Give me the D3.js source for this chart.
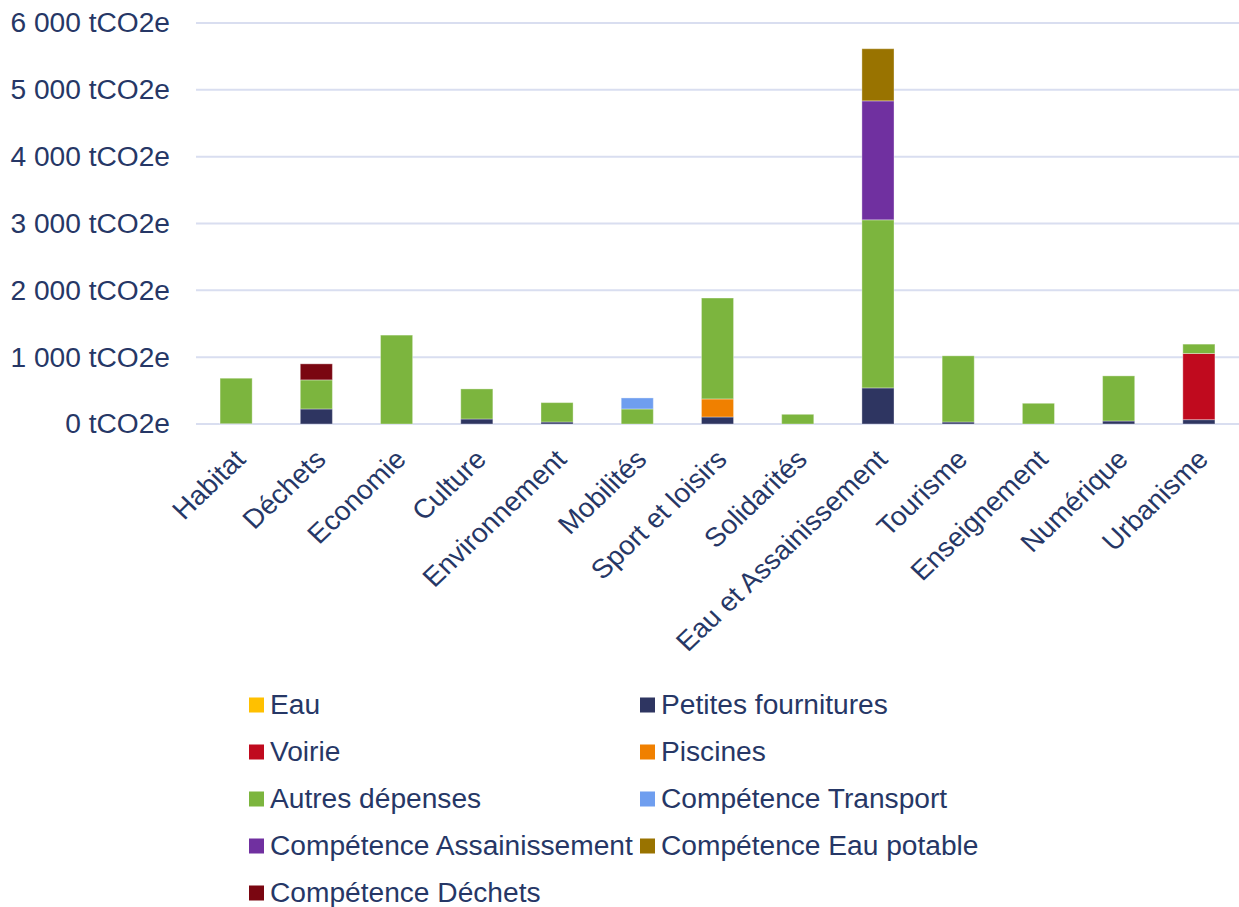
<!DOCTYPE html>
<html><head><meta charset="utf-8">
<script src="https://cdn.jsdelivr.net/npm/d3@7"></script>
<style>body{margin:0;background:#fff;} text{font-family:"Liberation Sans",Arial,sans-serif;fill:#263766;}</style>
</head><body>
<svg id="c" width="1239" height="907"></svg>
<script>
const categories = ["Habitat","Déchets","Economie","Culture","Environnement","Mobilités","Sport et loisirs","Solidarités","Eau et Assainissement","Tourisme","Enseignement","Numérique","Urbanisme"];
const seriesNames = ["Eau","Petites fournitures","Voirie","Piscines","Autres dépenses","Compétence Transport","Compétence Assainissement","Compétence Eau potable","Compétence Déchets"];
const seriesColors = ["#FFC000","#2E3561","#C00A1E","#F08000","#7CB53E","#6F9EEF","#7030A0","#997300","#7A0611"];
const eau              = [0,0,0,0,0,0,0,0,0,0,0,0,0];
const petites          = [5,225,0,75,30,0,105,0,540,30,0,45,65];
const voirie           = [0,0,0,0,0,0,0,0,0,0,0,0,990];
const piscines         = [0,0,0,0,0,0,270,0,0,0,0,0,0];
const autres           = [680,435,1330,450,290,225,1510,145,2515,990,310,675,140];
const transport        = [0,0,0,0,0,165,0,0,0,0,0,0,0];
const assainissement   = [0,0,0,0,0,0,0,0,1780,0,0,0,0];
const eauPotable       = [0,0,0,0,0,0,0,0,780,0,0,0,0];
const competDechets    = [0,240,0,0,0,0,0,0,0,0,0,0,0];
const yTicks = [0,1000,2000,3000,4000,5000,6000];
const yTickLabels = ["0 tCO2e","1 000 tCO2e","2 000 tCO2e","3 000 tCO2e","4 000 tCO2e","5 000 tCO2e","6 000 tCO2e"];

const seriesValues = [eau,petites,voirie,piscines,autres,transport,assainissement,eauPotable,competDechets];
const table = categories.map((c,i)=>{const o={cat:c}; seriesNames.forEach((s,j)=>o[s]=seriesValues[j][i]); return o;});
const stack = d3.stack().keys(seriesNames)(table);

const svg = d3.select("#c");
const pL=196, pR=1239, pT=23, pB=424;
const x = d3.scaleBand().domain(categories).range([pL,pR]).paddingInner(0.6).paddingOuter(0.3);
const y = d3.scaleLinear().domain([0,6000]).range([pB,pT]);
const fs = 26.8, sx = 1.05;

svg.append("g").selectAll("line").data(yTicks).join("line")
  .attr("x1",pL).attr("x2",pR).attr("y1",d=>y(d)).attr("y2",d=>y(d))
  .attr("stroke","#D9DEF0").attr("stroke-width",2);
svg.append("g").selectAll("text").data(yTicks).join("text")
  .attr("transform",d=>`translate(170,${y(d)}) scale(${sx},1)`)
  .attr("dy","0.35em").attr("text-anchor","end")
  .attr("font-size",fs).text((d,i)=>yTickLabels[i]);

const bars = svg.append("g");
stack.forEach((layer,j)=>{
  bars.append("g").attr("fill",seriesColors[j]).selectAll("rect").data(layer.filter(d=>d[1]-d[0]>0)).join("rect")
    .attr("x",d=>x(d.data.cat)).attr("width",x.bandwidth())
    .attr("y",d=>y(d[1])).attr("height",d=>y(d[0])-y(d[1]))
    .attr("stroke","#ffffff").attr("stroke-opacity",0.35).attr("stroke-width",1);
});

svg.append("g").selectAll("text").data(categories).join("text")
  .attr("text-anchor","end").attr("font-size",fs)
  .attr("transform",d=>`translate(${x(d)+x.bandwidth()/2+11},${pB+37}) scale(${sx},1) rotate(-45)`)
  .text(d=>d);

const lg = svg.append("g");
seriesNames.forEach((s,i)=>{
  const col=i%2, row=Math.floor(i/2);
  const lx = col===0?249:640, ly = 705+row*47;
  lg.append("rect").attr("x",lx).attr("y",ly-7.5).attr("width",15).attr("height",15).attr("fill",seriesColors[i]);
  lg.append("text").attr("transform",`translate(${lx+21},${ly}) scale(${sx},1)`).attr("dy","0.35em").attr("font-size",fs).text(s);
});
</script>
</body></html>
